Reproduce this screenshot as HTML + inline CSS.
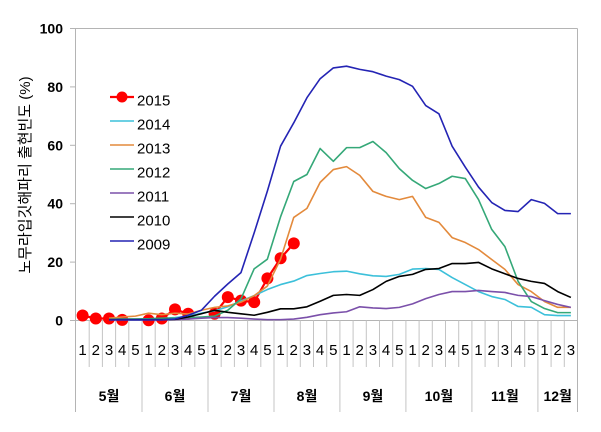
<!DOCTYPE html>
<html>
<head>
<meta charset="utf-8">
<style>
html,body{margin:0;padding:0;background:#fff;}
svg{display:block;}
.t{font-family:"Liberation Sans","Noto Sans CJK KR",sans-serif;}
</style>
</head>
<body>
<svg width="601" height="432" viewBox="0 0 601 432" xmlns="http://www.w3.org/2000/svg">
<rect x="0" y="0" width="601" height="432" fill="#fff"/>

<!-- frame -->
<g stroke="#b4b4b4" stroke-width="1" fill="none">
  <line x1="76" y1="28.5" x2="577.5" y2="28.5"/>
  <line x1="75.5" y1="28.5" x2="75.5" y2="412"/>
  <line x1="577.5" y1="28.5" x2="577.5" y2="412"/>
  <line x1="70" y1="320.5" x2="577.5" y2="320.5"/>
  <line x1="70" y1="262.1" x2="76" y2="262.1"/>
  <line x1="70" y1="203.7" x2="76" y2="203.7"/>
  <line x1="70" y1="145.3" x2="76" y2="145.3"/>
  <line x1="70" y1="86.9" x2="76" y2="86.9"/>
  <line x1="70" y1="28.5" x2="76" y2="28.5"/>
</g>
<!-- category separators -->
<g stroke="#c4c4c4" stroke-width="1" fill="none">
  <path d="M89.2 320.5V367 M102.4 320.5V367 M115.6 320.5V367 M128.8 320.5V367
           M155.2 320.5V367 M168.4 320.5V367 M181.6 320.5V367 M194.8 320.5V367
           M221.2 320.5V367 M234.4 320.5V367 M247.6 320.5V367 M260.8 320.5V367
           M287.2 320.5V367 M300.3 320.5V367 M313.5 320.5V367 M326.7 320.5V367
           M353.1 320.5V367 M366.3 320.5V367 M379.5 320.5V367 M392.7 320.5V367
           M419.1 320.5V367 M432.3 320.5V367 M445.5 320.5V367 M458.7 320.5V367
           M485.1 320.5V367 M498.3 320.5V367 M511.5 320.5V367 M524.7 320.5V367
           M551.1 320.5V367 M564.3 320.5V367"/>
  <path d="M142 320.5V412 M208 320.5V412 M274 320.5V412 M339.9 320.5V412 M405.9 320.5V412 M471.9 320.5V412 M537.9 320.5V412"/>
</g>

<!-- y tick labels -->
<g class="t" font-size="14" font-weight="bold" fill="#000" text-anchor="end">
  <text x="63" y="325.5">0</text>
  <text x="63" y="267.1">20</text>
  <text x="63" y="208.7">40</text>
  <text x="63" y="150.3">60</text>
  <text x="63" y="91.9">80</text>
  <text x="63" y="33.5">100</text>
</g>

<!-- y title -->
<text class="t" transform="translate(30,175) rotate(-90)" font-size="15" text-anchor="middle" fill="#000" font-family="'Liberation Sans','Noto Sans CJK KR',sans-serif">노무라입깃해파리 출현빈도 (%)</text>

<!-- week labels -->
<g class="t" font-size="15" fill="#000" text-anchor="middle">
  <text x="82.6" y="355">1</text><text x="95.8" y="355">2</text><text x="109.0" y="355">3</text><text x="122.2" y="355">4</text><text x="135.4" y="355">5</text>
  <text x="148.6" y="355">1</text><text x="161.8" y="355">2</text><text x="175.0" y="355">3</text><text x="188.2" y="355">4</text><text x="201.4" y="355">5</text>
  <text x="214.6" y="355">1</text><text x="227.8" y="355">2</text><text x="241.0" y="355">3</text><text x="254.2" y="355">4</text><text x="267.4" y="355">5</text>
  <text x="280.5" y="355">1</text><text x="293.7" y="355">2</text><text x="306.9" y="355">3</text><text x="320.1" y="355">4</text><text x="333.3" y="355">5</text>
  <text x="346.5" y="355">1</text><text x="359.7" y="355">2</text><text x="372.9" y="355">3</text><text x="386.1" y="355">4</text><text x="399.3" y="355">5</text>
  <text x="412.5" y="355">1</text><text x="425.7" y="355">2</text><text x="438.9" y="355">3</text><text x="452.1" y="355">4</text><text x="465.3" y="355">5</text>
  <text x="478.5" y="355">1</text><text x="491.7" y="355">2</text><text x="504.9" y="355">3</text><text x="518.1" y="355">4</text><text x="531.3" y="355">5</text>
  <text x="544.5" y="355">1</text><text x="557.7" y="355">2</text><text x="570.9" y="355">3</text>
</g>

<!-- month labels -->
<g class="t" font-size="14" font-weight="bold" fill="#000" text-anchor="middle">
  <text x="109.0" y="401">5월</text>
  <text x="175.0" y="401">6월</text>
  <text x="241.0" y="401">7월</text>
  <text x="307.0" y="401">8월</text>
  <text x="372.9" y="401">9월</text>
  <text x="438.9" y="401">10월</text>
  <text x="504.9" y="401">11월</text>
  <text x="557.7" y="401">12월</text>
</g>

<!-- 2015 red (bottom) -->
<g stroke="#ff0000" stroke-width="2.2" fill="none" stroke-linejoin="round">
  <polyline points="82.6,315.5 95.8,318.5 109.0,318.5 122.2,319.9"/>
  <polyline points="148.6,320.2 161.8,318.5 175.0,309.4 188.2,313.8"/>
  <polyline points="214.6,313.8 227.8,297.1 241.0,300.6 254.2,302.1 267.4,278.4 280.6,258.3 293.8,243.4"/>
</g>
<g fill="#ff0000">
  <circle cx="82.6" cy="315.5" r="6"/><circle cx="95.8" cy="318.5" r="6"/><circle cx="109.0" cy="318.5" r="6"/><circle cx="122.2" cy="319.9" r="6"/>
  <circle cx="148.6" cy="320.2" r="6"/><circle cx="161.8" cy="318.5" r="6"/><circle cx="175.0" cy="309.4" r="6"/><circle cx="188.2" cy="313.8" r="6"/>
  <circle cx="214.6" cy="313.8" r="6"/><circle cx="227.8" cy="297.1" r="6"/><circle cx="241.0" cy="300.6" r="6"/><circle cx="254.2" cy="302.1" r="6"/>
  <circle cx="267.4" cy="278.4" r="6"/><circle cx="280.6" cy="258.3" r="6"/><circle cx="293.8" cy="243.4" r="6"/>
</g>

<!-- other series in data units -->
<g transform="translate(76,320.5) scale(13.197,-2.92)" fill="none" stroke-linejoin="round">
  <polyline vector-effect="non-scaling-stroke" stroke="#3cc0da" stroke-width="1.6" points="2.5,0.5 3.5,0.5 4.5,0.5 5.5,0.6 6.5,0.7 7.5,1 8.5,1.5 9.5,2.5 10.5,3.3 11.5,4.7 12.5,6.7 13.5,8.5 14.5,10.6 15.5,12.3 16.5,13.5 17.5,15.4 18.5,16.1 19.5,16.7 20.5,16.9 21.5,16 22.5,15.3 23.5,15.1 24.5,15.8 25.5,17.6 26.5,17.8 27.5,17.5 28.5,14.7 29.5,12.3 30.5,9.9 31.5,8.2 32.5,7.2 33.5,4.8 34.5,4.5 35.5,2 36.5,1.7 37.5,1.7"/>
  <polyline vector-effect="non-scaling-stroke" stroke="#e38a3c" stroke-width="1.6" points="2.5,0.8 3.5,1.2 4.5,1.5 5.5,2.5 6.5,2 7.5,2.5 8.5,2.2 9.5,3.5 10.5,4.5 11.5,5 12.5,6.3 13.5,8.5 14.5,11.8 15.5,21 16.5,35.3 17.5,38.4 18.5,47.3 19.5,51.7 20.5,52.7 21.5,49.7 22.5,44.2 23.5,42.5 24.5,41.4 25.5,42.5 26.5,35.3 27.5,33.6 28.5,28.4 29.5,26.7 30.5,24.3 31.5,20.9 32.5,17.5 33.5,12.3 34.5,9.9 35.5,6.5 36.5,4.5 37.5,4.5"/>
  <polyline vector-effect="non-scaling-stroke" stroke="#35a878" stroke-width="1.6" points="2.5,0.4 3.5,0.5 4.5,0.5 5.5,0.6 6.5,0.8 7.5,0.8 8.5,1 9.5,1.2 10.5,1.5 11.5,3.5 12.5,7.4 13.5,17.7 14.5,21 15.5,35.5 16.5,47.6 17.5,50 18.5,58.9 19.5,54.5 20.5,59.2 21.5,59.2 22.5,61.3 23.5,57.5 24.5,52 25.5,48 26.5,45.2 27.5,46.9 28.5,49.4 29.5,48.6 30.5,41.4 31.5,31.2 32.5,25.3 33.5,13.4 34.5,6.5 35.5,4.1 36.5,2.7 37.5,2.7"/>
  <polyline vector-effect="non-scaling-stroke" stroke="#7b50aa" stroke-width="1.6" points="2.5,0.3 3.5,0.3 4.5,0.3 5.5,0.3 6.5,0.3 7.5,0.3 8.5,0.5 9.5,0.8 10.5,1 11.5,1 12.5,0.8 13.5,0.5 14.5,0.3 15.5,0.3 16.5,0.5 17.5,1.1 18.5,2 19.5,2.6 20.5,3 21.5,4.7 22.5,4.3 23.5,4.1 24.5,4.5 25.5,5.7 26.5,7.5 27.5,8.9 28.5,9.9 29.5,9.9 30.5,10.3 31.5,9.9 32.5,9.6 33.5,8.6 34.5,8.2 35.5,6.8 36.5,5.5 37.5,4.5"/>
  <polyline vector-effect="non-scaling-stroke" stroke="#000000" stroke-width="1.6" points="2.5,0.3 3.5,0.3 4.5,0.3 5.5,0.3 6.5,0.3 7.5,0.4 8.5,1.2 9.5,2.3 10.5,3.5 11.5,2.8 12.5,2.3 13.5,1.8 14.5,2.8 15.5,4 16.5,4 17.5,4.7 18.5,6.6 19.5,8.6 20.5,8.9 21.5,8.6 22.5,10.6 23.5,13.4 24.5,15.1 25.5,15.8 26.5,17.5 27.5,17.8 28.5,19.5 29.5,19.5 30.5,19.9 31.5,17.7 32.5,16 33.5,14.4 34.5,13.4 35.5,12.7 36.5,9.9 37.5,7.9"/>
  <polyline vector-effect="non-scaling-stroke" stroke="#2424b4" stroke-width="1.6" points="2.5,0.2 3.5,0.2 4.5,0.2 5.5,0.2 6.5,0.2 7.5,0.5 8.5,1.8 9.5,3.5 10.5,8.3 11.5,12.5 12.5,16.4 13.5,30 14.5,44.3 15.5,59.7 16.5,67.7 17.5,76.3 18.5,82.8 19.5,86.5 20.5,87.1 21.5,86 22.5,85.2 23.5,83.7 24.5,82.5 25.5,80.2 26.5,73.6 27.5,70.8 28.5,59.7 29.5,52.5 30.5,45.7 31.5,40.4 32.5,37.7 33.5,37.3 34.5,41.4 35.5,40.1 36.5,36.6 37.5,36.6"/>
</g>

<!-- legend -->
<g stroke-width="1.6" fill="none">
  <line x1="110" y1="97" x2="134" y2="97" stroke="#ff0000" stroke-width="2.2"/>
  <line x1="110" y1="121" x2="134" y2="121" stroke="#3cc0da"/>
  <line x1="110" y1="145" x2="134" y2="145" stroke="#e38a3c"/>
  <line x1="110" y1="169" x2="134" y2="169" stroke="#35a878"/>
  <line x1="110" y1="193" x2="134" y2="193" stroke="#7b50aa"/>
  <line x1="110" y1="217" x2="134" y2="217" stroke="#000000"/>
  <line x1="110" y1="241" x2="134" y2="241" stroke="#2424b4"/>
</g>
<circle cx="122" cy="97" r="5.5" fill="#ff0000"/>
<g class="t" font-size="15" fill="#000">
  <text x="137" y="105.5">2015</text>
  <text x="137" y="129.5">2014</text>
  <text x="137" y="153.5">2013</text>
  <text x="137" y="177.5">2012</text>
  <text x="137" y="201.5">2011</text>
  <text x="137" y="225.5">2010</text>
  <text x="137" y="249.5">2009</text>
</g>
</svg>
</body>
</html>
